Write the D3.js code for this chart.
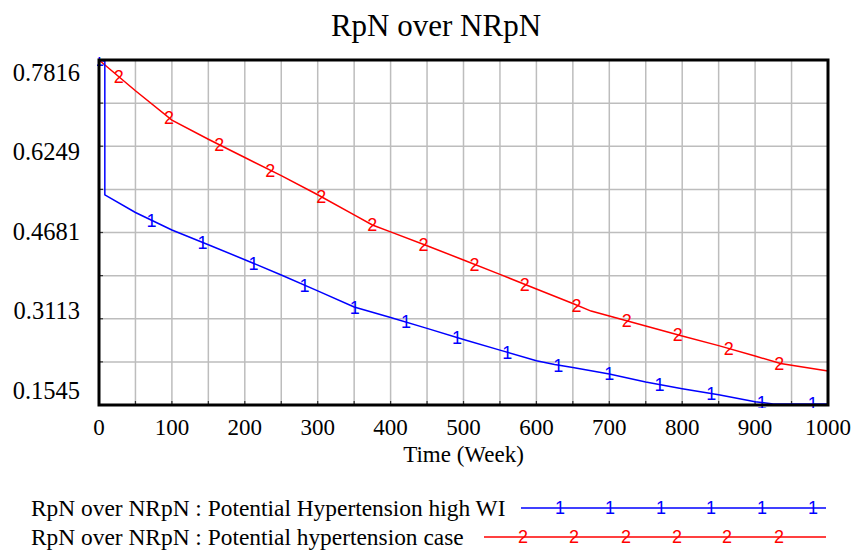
<!DOCTYPE html>
<html>
<head>
<meta charset="utf-8">
<script src="https://cdn.jsdelivr.net/npm/d3@7"></script>
<style>
  html, body { margin: 0; padding: 0; background: #fff; }
  svg { display: block; }
  text { font-family: "Liberation Serif", "Times New Roman", serif; fill: #000; }
  .mark { font-family: "Liberation Sans", Arial, sans-serif; }
</style>
</head>
<body>
<svg id="chart" width="857" height="554"></svg>
<script>
// ---- data ----
const chartTitle = "RpN over NRpN";
const xAxisTitle = "Time (Week)";
const xTicks = [0, 100, 200, 300, 400, 500, 600, 700, 800, 900, 1000];
const yTickLabels = ["0.1545", "0.3113", "0.4681", "0.6249", "0.7816"];
const yRange = [0.125, 0.8064];

const seriesNames = [
  "RpN over NRpN : Potential Hypertension high WI",
  "RpN over NRpN : Potential hypertension case"
];
const seriesColors = ["#0000ff", "#ff0000"];
const seriesGlyphs = ["1", "2"];

// series 1: Potential Hypertension high WI
const highWiTime = [0, 8, 8, 50, 100, 150, 200, 250, 300, 350, 400, 450, 500, 550,
  600, 625, 650, 700, 750, 800, 850, 900, 925, 950, 1000];
const highWiValue = [0.8064, 0.8040, 0.5400, 0.5052, 0.4707, 0.4415, 0.4120, 0.3817,
  0.3505, 0.3185, 0.2980, 0.2764, 0.2542, 0.2334, 0.2126, 0.2050, 0.1989, 0.1862,
  0.1705, 0.1573, 0.1453, 0.1315, 0.1270, 0.1270, 0.1270];
const highWiMarks = [0, 72, 142, 212, 282, 351, 421, 491, 560, 630, 700, 769, 840, 909, 979];

// series 2: Potential hypertension case
const caseTime = [0, 50, 100, 150, 200, 250, 300, 350, 375, 400, 450, 500, 550, 600,
  650, 675, 700, 750, 800, 850, 900, 935, 950, 1000];
const caseValue = [0.8064, 0.7456, 0.6875, 0.6498, 0.6139, 0.5779, 0.5402, 0.5004,
  0.4805, 0.4669, 0.4396, 0.4114, 0.3829, 0.3542, 0.3254, 0.3105, 0.3007, 0.2811,
  0.2614, 0.2423, 0.2216, 0.2070, 0.2035, 0.1922];
const caseMarks = [27, 96, 165, 235, 305, 375, 445, 515, 584, 655, 724, 794, 864, 933];

// ---- layout ----
const svg = d3.select("#chart");
const plot = { left: 99, right: 828, top: 60, bottom: 405 };

const x = d3.scaleLinear().domain([0, 1000]).range([plot.left, plot.right]);
const y = d3.scaleLinear().domain(yRange).range([plot.bottom, plot.top]);

svg.append("rect").attr("width", 857).attr("height", 554).attr("fill", "#fff");

svg.append("defs").append("clipPath").attr("id", "plot-clip")
  .append("rect")
  .attr("x", plot.left - 2).attr("y", plot.top - 3)
  .attr("width", plot.right - plot.left + 4).attr("height", plot.bottom - plot.top + 6);

// grid
const grid = svg.append("g").attr("stroke", "#bdbdbd").attr("stroke-width", 1.5);
grid.selectAll("line.v").data(d3.range(50, 1000, 50)).join("line")
  .attr("x1", d => x(d)).attr("x2", d => x(d))
  .attr("y1", plot.top).attr("y2", plot.bottom);
const hVals = d3.range(1, 8).map(i => yRange[0] + i * (yRange[1] - yRange[0]) / 8);
grid.selectAll("line.h").data(hVals).join("line")
  .attr("x1", plot.left).attr("x2", plot.right)
  .attr("y1", d => y(d)).attr("y2", d => y(d));

// small inward ticks on the left and bottom axes
const ticks = svg.append("g").attr("stroke", "#333").attr("stroke-width", 1.2);
ticks.selectAll("line.ty").data(hVals).join("line")
  .attr("x1", plot.left).attr("x2", plot.left + 4)
  .attr("y1", d => y(d)).attr("y2", d => y(d));
ticks.selectAll("line.tx").data(d3.range(50, 1000, 50)).join("line")
  .attr("x1", d => x(d)).attr("x2", d => x(d))
  .attr("y1", plot.bottom).attr("y2", plot.bottom - 4);

// series lines
const line = d3.line().x(d => x(d[0])).y(d => y(d[1]));
const series = [
  { t: highWiTime, v: highWiValue, marks: highWiMarks },
  { t: caseTime, v: caseValue, marks: caseMarks }
];

function valueAt(s, t) {
  for (let i = 1; i < s.t.length; i++) {
    if (t <= s.t[i]) {
      const t0 = s.t[i - 1], t1 = s.t[i];
      if (t1 === t0) return s.v[i];
      return s.v[i - 1] + (s.v[i] - s.v[i - 1]) * (t - t0) / (t1 - t0);
    }
  }
  return s.v[s.v.length - 1];
}

// draw in order so series 1 sits on top at the bottom edge
[1, 0].forEach(k => {
  const s = series[k];
  const g = svg.append("g").attr("clip-path", "url(#plot-clip)");
  g.append("path")
    .datum(d3.zip(s.t, s.v))
    .attr("fill", "none")
    .attr("stroke", seriesColors[k])
    .attr("stroke-width", 1.5)
    .attr("d", line);
  g.selectAll("text").data(s.marks).join("text")
    .attr("class", "mark")
    .attr("x", d => x(d))
    .attr("y", d => y(valueAt(s, d)))
    .attr("dy", "0.36em")
    .attr("text-anchor", "middle")
    .attr("font-size", 18)
    .style("fill", seriesColors[k])
    .text(seriesGlyphs[k]);
});

// frame
svg.append("rect")
  .attr("x", plot.left).attr("y", plot.top)
  .attr("width", plot.right - plot.left).attr("height", plot.bottom - plot.top)
  .attr("fill", "none").attr("stroke", "#000").attr("stroke-width", 3);

// axis labels
svg.append("g").selectAll("text").data(xTicks).join("text")
  .attr("x", d => x(d)).attr("y", 435)
  .attr("text-anchor", "middle")
  .attr("font-size", 23)
  .text(d => d);

svg.append("g").selectAll("text").data(yTickLabels).join("text")
  .attr("x", 80).attr("y", d => y(+d))
  .attr("dy", "0.35em")
  .attr("text-anchor", "end")
  .attr("font-size", 24.5)
  .text(d => d);

svg.append("text")
  .attr("x", (plot.left + plot.right) / 2).attr("y", 462)
  .attr("text-anchor", "middle").attr("font-size", 23)
  .text(xAxisTitle);

svg.append("text")
  .attr("x", 436).attr("y", 36)
  .attr("text-anchor", "middle").attr("font-size", 31)
  .text(chartTitle);

// legend
const legendRows = [
  { y: 508, x0: 521, glyphX: [560, 610, 661, 711, 762, 813] },
  { y: 537, x0: 484, glyphX: [523, 574, 626, 677, 727, 779] }
];
legendRows.forEach((r, k) => {
  const g = svg.append("g");
  g.append("text").attr("x", 31).attr("y", r.y).attr("dy", "0.33em")
    .attr("font-size", 23.4).text(seriesNames[k]);
  g.append("line").attr("x1", r.x0).attr("x2", 826)
    .attr("y1", r.y).attr("y2", r.y)
    .attr("stroke", seriesColors[k]).attr("stroke-width", 1.5);
  g.selectAll("text.m").data(r.glyphX).join("text")
    .attr("class", "mark")
    .attr("x", d => d).attr("y", r.y).attr("dy", "0.36em")
    .attr("text-anchor", "middle").attr("font-size", 18)
    .style("fill", seriesColors[k])
    .text(seriesGlyphs[k]);
});
</script>
</body>
</html>
